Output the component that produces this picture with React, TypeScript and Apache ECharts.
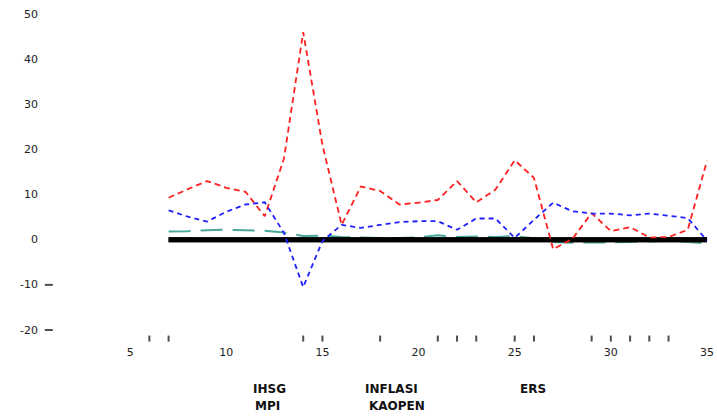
import React, { useEffect, useRef } from "react";
import * as echarts from "echarts";

const periods = [7, 8, 9, 10, 11, 12, 13, 14, 15, 16, 17, 18, 19, 20, 21, 22, 23, 24, 25, 26, 27, 28, 29, 30, 31, 32, 33, 34, 35];
const ihsg = [9.3, 11.2, 13, 11.5, 10.6, 5.2, 18, 46, 21, 3.3, 11.8, 10.8, 7.8, 8.2, 8.8, 13, 8.3, 11.1, 17.6, 13.7, -2.1, 0.2, 5.9, 1.9, 2.8, 0.5, 0.6, 2.2, 17.5];
const inflasi = [6.5, 5.1, 4.0, 6.2, 7.8, 8.3, 1.5, -10.5, -0.3, 3.3, 2.6, 3.3, 3.9, 4.1, 4.1, 2.2, 4.7, 4.7, 0.4, 4.4, 8.2, 6.3, 5.8, 5.8, 5.4, 5.8, 5.3, 4.8, -0.2];
const ers = [1.8, 1.9, 2.1, 2.2, 2.1, 2.0, 1.6, 0.8, 0.9, 0.6, 0.5, 0.4, 0.4, 0.5, 1.0, 0.6, 0.7, 0.6, 0.8, 0.3, -0.5, -0.7, -0.6, -0.6, -0.5, -0.4, -0.3, -0.5, -0.8];
const mpi = [0, 0, 0, 0, 0, 0, 0, 0, 0, 0, 0, 0, 0, 0, 0, 0, 0, 0, 0, 0, 0, 0, 0, 0, 0, 0, 0, 0, 0];
const kaopen = [0, 0, 0, 0, 0, 0, 0, 0, 0, 0, 0, 0, 0, 0, 0, 0, 0, 0, 0, 0, 0, 0, 0, 0, 0, 0, 0, 0, 0];
const rugX = [6, 7, 14, 15, 18, 21, 22, 23, 25, 26, 29, 30, 31, 32, 33];
const negTicks = [-10, -20];
const legendNames = ["IHSG", "INFLASI", "ERS", "MPI", "KAOPEN"];

const pairs = (ys: number[]) => periods.map((x, i) => [x, ys[i]]);

const FONT = "DejaVu Sans";

export default function App() {
  const ref = useRef<HTMLDivElement>(null);
  useEffect(() => {
    if (!ref.current) return;
    const chart = echarts.init(ref.current, null, { renderer: "svg" });
    const legendText = { color: "#111", fontSize: 12, fontWeight: "bold" as const, fontFamily: FONT, lineHeight: 12 };
    const legendPos = [
      [248, 383],
      [360, 383],
      [515, 383],
      [250, 400],
      [364, 400],
    ];
    chart.setOption({
      animation: false,
      backgroundColor: "#fff",
      grid: { left: 34, right: 5, top: 14, bottom: 86, containLabel: false },
      xAxis: {
        type: "value",
        min: 0,
        max: 35,
        interval: 5,
        axisLine: { show: false },
        axisTick: { show: false },
        splitLine: { show: false },
        axisLabel: { showMinLabel: false, color: "#222", fontSize: 11, fontFamily: FONT, margin: 17 },
      },
      yAxis: {
        type: "value",
        min: -20,
        max: 50,
        interval: 10,
        axisLine: { show: false },
        axisTick: { show: false },
        splitLine: { show: false },
        axisLabel: { color: "#222", fontSize: 11, fontFamily: FONT, margin: -4 },
      },
      legend: legendNames.map((name, i) => ({
        data: [name],
        left: legendPos[i][0],
        top: legendPos[i][1],
        padding: 0,
        icon: "none",
        itemWidth: 0,
        itemHeight: 10,
        textStyle: legendText,
        selectedMode: false,
      })),
      series: [
        {
          name: "ERS",
          type: "line",
          data: pairs(ers),
          symbol: "none",
          lineStyle: { color: "#4aa898", width: 2, type: [22, 10] },
          itemStyle: { color: "#4aa898" },
        },
        {
          name: "MPI",
          type: "line",
          data: pairs(mpi),
          symbol: "none",
          lineStyle: { color: "#000", width: 5, type: "solid" },
          itemStyle: { color: "#000" },
        },
        {
          name: "KAOPEN",
          type: "line",
          data: pairs(kaopen),
          symbol: "none",
          lineStyle: { color: "#000", width: 5, type: "solid" },
          itemStyle: { color: "#000" },
        },
        {
          name: "IHSG",
          type: "line",
          data: pairs(ihsg),
          symbol: "none",
          lineStyle: { color: "#ff2020", width: 1.8, type: [6, 4] },
          itemStyle: { color: "#ff2020" },
        },
        {
          name: "INFLASI",
          type: "line",
          data: pairs(inflasi),
          symbol: "none",
          lineStyle: { color: "#2020ff", width: 1.8, type: [5, 4] },
          itemStyle: { color: "#2020ff" },
        },
        {
          name: "rug",
          type: "scatter",
          data: rugX.map((x) => [x, -21.9]),
          symbol: "rect",
          symbolSize: [2, 6],
          itemStyle: { color: "#222" },
          clip: false,
          silent: true,
        },
        {
          name: "yticks",
          type: "scatter",
          data: negTicks.map((v) => [0.77, v]),
          symbol: "rect",
          symbolSize: [8, 2],
          itemStyle: { color: "#222" },
          clip: false,
          silent: true,
        },
      ],
    });
    return () => chart.dispose();
  }, []);
  return (
    <div
      ref={ref}
      style={{ position: "fixed", left: 0, top: 0, width: 717, height: 416 }}
    />
  );
}
